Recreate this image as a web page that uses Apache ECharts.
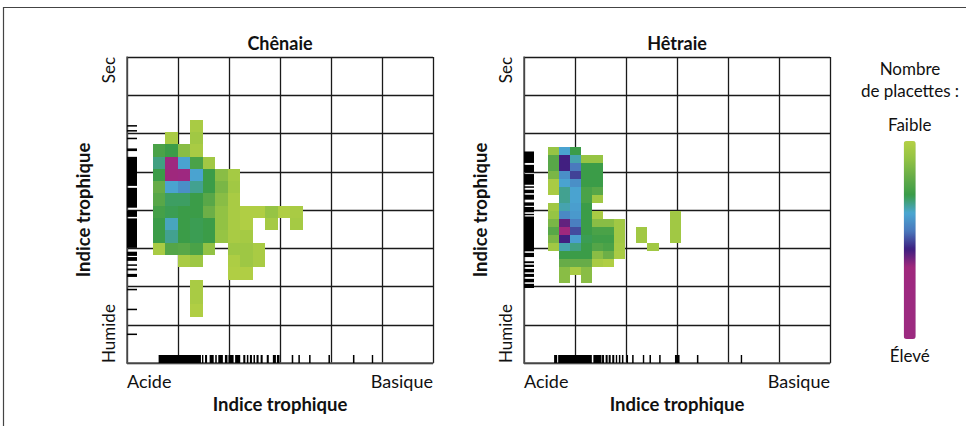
<!DOCTYPE html>
<html>
<head>
<meta charset="utf-8">
<script src="https://cdn.jsdelivr.net/npm/echarts@6/dist/echarts.min.js"></script>
<style>
  html, body { margin: 0; padding: 0; background: #fff; }
  #chart { width: 966px; height: 426px; }
</style>
</head>
<body>
<div id="chart"></div>
<script>
// panel titles and axis texts
var panelTitles = ['Chênaie', 'Hêtraie'];
var axisTitle = 'Indice trophique';
var xEndLabels = ['Acide', 'Basique'];
var yEndLabels = ['Humide', 'Sec'];
var legendTitle = 'Nombre\nde placettes :';
var legendEnds = ['Élevé', 'Faible'];

// heat cells: [column, row from top, count index 0-100]
var chenaieCells = [
  [3, 0, 3],
  [1, 1, 3], [3, 1, 5],
  [0, 2, 24], [1, 2, 27], [2, 2, 11], [3, 2, 3],
  [0, 3, 31], [1, 3, 70], [2, 3, 37], [3, 3, 24], [4, 3, 5],
  [0, 4, 27], [1, 4, 66], [2, 4, 72], [3, 4, 37], [4, 4, 27], [5, 4, 11], [6, 4, 4],
  [0, 5, 18], [1, 5, 37], [2, 5, 41], [3, 5, 32], [4, 5, 27], [5, 5, 14], [6, 5, 5],
  [0, 6, 21], [1, 6, 29], [2, 6, 29], [3, 6, 27], [4, 6, 21], [5, 6, 11], [6, 6, 3],
  [0, 7, 25], [1, 7, 28], [2, 7, 27], [3, 7, 27], [4, 7, 17], [5, 7, 9], [6, 7, 3],
  [7, 7, 1], [8, 7, 1], [9, 7, 8], [10, 7, 1], [11, 7, 3],
  [0, 8, 27], [1, 8, 35], [2, 8, 27], [3, 8, 28], [4, 8, 27], [5, 8, 9], [6, 8, 3],
  [7, 8, 1], [9, 8, 4], [11, 8, 4],
  [0, 9, 27], [1, 9, 32], [2, 9, 27], [3, 9, 28], [4, 9, 27], [5, 9, 8], [6, 9, 3], [7, 9, 4],
  [0, 10, 3], [1, 10, 22], [2, 10, 21], [3, 10, 24], [4, 10, 9], [6, 10, 6], [7, 10, 6], [8, 10, 3],
  [2, 11, 3], [3, 11, 6], [6, 11, 2], [7, 11, 6], [8, 11, 3],
  [6, 12, 1], [7, 12, 1],
  [3, 13, 3],
  [3, 14, 3],
  [3, 15, 1]
];

var hetraieCells = [
  [0, 0, 8], [1, 0, 37], [2, 0, 27],
  [0, 1, 21], [1, 1, 55], [2, 1, 34], [3, 1, 8], [4, 1, 8],
  [0, 2, 21], [1, 2, 55], [2, 2, 45], [3, 2, 27], [4, 2, 27],
  [0, 3, 14], [1, 3, 41], [2, 3, 51], [3, 3, 27], [4, 3, 27],
  [0, 4, 3], [1, 4, 37], [2, 4, 41], [3, 4, 27], [4, 4, 27],
  [0, 5, 3], [1, 5, 32], [2, 5, 37], [3, 5, 24], [4, 5, 21],
  [1, 6, 32], [2, 6, 37], [3, 6, 24], [4, 6, 5],
  [0, 7, 5], [1, 7, 34], [2, 7, 38], [3, 7, 27],
  [0, 8, 8], [1, 8, 42], [2, 8, 39], [3, 8, 27], [4, 8, 3], [11, 8, 5],
  [0, 9, 14], [1, 9, 58], [2, 9, 44], [3, 9, 27], [4, 9, 11], [5, 9, 11], [6, 9, 5], [11, 9, 5],
  [0, 10, 21], [1, 10, 66], [2, 10, 50], [3, 10, 27], [4, 10, 24], [5, 10, 24], [6, 10, 5], [8, 10, 5], [11, 10, 5],
  [0, 11, 14], [1, 11, 55], [2, 11, 38], [3, 11, 28], [4, 11, 26], [5, 11, 26], [6, 11, 5], [8, 11, 5], [11, 11, 5],
  [0, 12, 5], [1, 12, 34], [2, 12, 31], [3, 12, 27], [4, 12, 22], [5, 12, 24], [6, 12, 4], [9, 12, 5],
  [1, 13, 27], [2, 13, 27], [3, 13, 27], [4, 13, 11], [5, 13, 17], [6, 13, 3],
  [1, 14, 18], [2, 14, 18], [3, 14, 18], [4, 14, 3], [5, 14, 1],
  [1, 15, 11], [2, 15, 3], [3, 15, 11],
  [1, 16, 11], [3, 16, 11]
];

// rug marks, [from, to] in axis units
var chenaieRugY = [
  [6.18, 6.22], [6.05, 6.09], [5.85, 5.89], [5.54, 5.61], [4.63, 5.39], [4.06, 4.58],
  [3.82, 3.99], [3.01, 3.78], [2.80, 2.91], [2.67, 2.77], [2.54, 2.58], [2.42, 2.47],
  [2.25, 2.33], [1.90, 1.94], [1.38, 1.42], [0.73, 0.77]
];
var chenaieRugX = [
  [0.62, 1.45], [1.47, 1.49], [1.53, 1.57], [1.62, 1.70], [1.73, 1.76], [1.79, 1.88],
  [1.92, 1.97], [1.99, 2.09], [2.12, 2.22], [2.28, 2.32], [2.35, 2.38], [2.41, 2.45],
  [2.48, 2.51], [2.54, 2.58], [2.62, 2.66], [2.74, 2.78], [2.86, 2.92], [2.94, 2.99],
  [3.23, 3.26], [3.36, 3.39], [3.57, 3.60], [3.95, 3.98], [4.43, 4.46], [4.80, 4.82]
];
var hetraieRugY = [
  [5.23, 5.53], [4.99, 5.18], [4.66, 4.94], [4.58, 4.62], [4.44, 4.53], [4.27, 4.40],
  [4.11, 4.20], [3.94, 4.08], [3.87, 3.90], [2.92, 3.83], [2.77, 2.88], [2.61, 2.66],
  [2.51, 2.57], [2.37, 2.46], [2.25, 2.33], [2.11, 2.20], [1.96, 2.07]
];
var hetraieRugX = [
  [0.59, 0.65], [0.67, 1.33], [1.36, 1.52], [1.53, 1.57], [1.60, 1.64], [1.66, 1.70],
  [1.73, 1.77], [1.80, 1.82], [1.86, 1.89], [1.92, 1.95], [2.01, 2.04], [2.12, 2.15],
  [2.33, 2.35], [2.46, 2.49], [2.65, 2.68], [2.96, 3.05], [3.39, 3.42], [4.25, 4.27]
];

// bin layout of each panel (axis units)
var binsChenaie = { x0: 0.501, w: 0.2456, yTop: 6.361, h: 0.3216 };
var binsHetraie = { x0: 0.470, w: 0.2168, yTop: 5.655, h: 0.2102 };

var gradientColors = ['#b4d044', '#92c244', '#66ac48', '#3a9c48', '#4aa6d2', '#4a78bc',
  '#3c1f80', '#a0287c', '#9e2880', '#9c2a80', '#9c2a80', '#9c2a80'];

var FONT = 'Lato';
var INK = '#111';

function cellItem(bins) {
  return function (params, api) {
    var xa = bins.x0 + api.value(0) * bins.w;
    var yt = bins.yTop - api.value(1) * bins.h;
    var p0 = api.coord([xa, yt]);
    var p1 = api.coord([xa + bins.w, yt - bins.h]);
    var x = Math.round(p0[0]), y = Math.round(p0[1]);
    return {
      type: 'rect',
      shape: { x: x, y: y, width: Math.round(p1[0]) - x, height: Math.round(p1[1]) - y },
      style: { fill: api.visual('color') }
    };
  };
}

function rugYItem(params, api) {
  var a = api.coord([0, api.value(1)]);
  var b = api.coord([0, api.value(0)]);
  return {
    type: 'rect',
    shape: { x: a[0], y: a[1], width: 10, height: Math.max(b[1] - a[1], 1.4) },
    style: { fill: '#000' }
  };
}

function rugXItem(params, api) {
  var a = api.coord([api.value(0), 0]);
  var b = api.coord([api.value(1), 0]);
  return {
    type: 'rect',
    shape: { x: a[0], y: a[1] - 8, width: Math.max(b[0] - a[0], 1.4), height: 8 },
    style: { fill: '#000' }
  };
}

function xAxisFor(gi) {
  return {
    type: 'value', gridIndex: gi, min: 0, max: 6, interval: 1,
    axisLine: { show: true, lineStyle: { color: '#555', width: 1.5 } },
    axisTick: { show: false },
    splitLine: { show: true, lineStyle: { color: '#1a1a1a', width: 1.3 } },
    axisLabel: {
      formatter: function (v) { return v === 0 ? xEndLabels[0] : (v === 6 ? xEndLabels[1] : ''); },
      alignMinLabel: 'left', alignMaxLabel: 'right',
      margin: 9, fontSize: 18, color: INK, fontFamily: FONT
    },
    name: axisTitle, nameLocation: 'middle', nameGap: 29,
    nameTextStyle: { fontWeight: 'bold', fontSize: 18.5, color: INK, fontFamily: FONT }
  };
}

function yAxisFor(gi) {
  return {
    type: 'value', gridIndex: gi, min: 0, max: 8, interval: 1,
    axisLine: { show: true, lineStyle: { color: '#555', width: 1.5 } },
    axisTick: { show: false },
    splitLine: { show: true, lineStyle: { color: '#1a1a1a', width: 1.3 } },
    axisLabel: {
      formatter: function (v) { return v === 0 ? yEndLabels[0] : (v === 8 ? yEndLabels[1] : ''); },
      rotate: 90, alignMinLabel: 'left', alignMaxLabel: 'right',
      margin: 10, fontSize: 17, color: INK, fontFamily: FONT
    },
    name: axisTitle, nameLocation: 'middle', nameGap: 35,
    nameTextStyle: { fontWeight: 'bold', fontSize: 18.5, color: INK, fontFamily: FONT }
  };
}

var chart = echarts.init(document.getElementById('chart'), null, { renderer: 'svg' });

var option = {
  backgroundColor: '#fff',
  animation: false,
  grid: [
    { left: 127, top: 57, width: 306, height: 306 },
    { left: 524, top: 57, width: 306, height: 306 }
  ],
  xAxis: [xAxisFor(0), xAxisFor(1)],
  yAxis: [yAxisFor(0), yAxisFor(1)],
  visualMap: {
    type: 'continuous', min: 0, max: 100, dimension: 2, seriesIndex: [0, 3],
    calculable: false, inverse: true, orient: 'vertical',
    left: 873, top: 101, itemWidth: 12, itemHeight: 198,
    text: legendEnds, textGap: 8,
    textStyle: { fontSize: 17, color: INK, fontFamily: FONT },
    inRange: { color: gradientColors }
  },
  graphic: [
    { type: 'rect', silent: true, shape: { x: 3.5, y: 7.5, width: 1000, height: 500 },
      style: { fill: 'none', stroke: '#444', lineWidth: 1.2 } },
    { type: 'text', x: 280, y: 43, style: { text: panelTitles[0], align: 'center', verticalAlign: 'middle',
      fontSize: 18, fontWeight: 'bold', fontFamily: FONT, fill: INK } },
    { type: 'text', x: 677, y: 43, style: { text: panelTitles[1], align: 'center', verticalAlign: 'middle',
      fontSize: 18, fontWeight: 'bold', fontFamily: FONT, fill: INK } },
    { type: 'text', x: 910, y: 57, style: { text: legendTitle, align: 'center', verticalAlign: 'top',
      fontSize: 17, lineHeight: 22, fontFamily: FONT, fill: INK } }
  ],
  series: [
    { type: 'custom', xAxisIndex: 0, yAxisIndex: 0, renderItem: cellItem(binsChenaie), data: chenaieCells, z: 3 },
    { type: 'custom', xAxisIndex: 0, yAxisIndex: 0, renderItem: rugYItem, data: chenaieRugY, z: 4 },
    { type: 'custom', xAxisIndex: 0, yAxisIndex: 0, renderItem: rugXItem, data: chenaieRugX, z: 4 },
    { type: 'custom', xAxisIndex: 1, yAxisIndex: 1, renderItem: cellItem(binsHetraie), data: hetraieCells, z: 3 },
    { type: 'custom', xAxisIndex: 1, yAxisIndex: 1, renderItem: rugYItem, data: hetraieRugY, z: 4 },
    { type: 'custom', xAxisIndex: 1, yAxisIndex: 1, renderItem: rugXItem, data: hetraieRugX, z: 4 }
  ]
};

chart.setOption(option);
</script>
</body>
</html>
